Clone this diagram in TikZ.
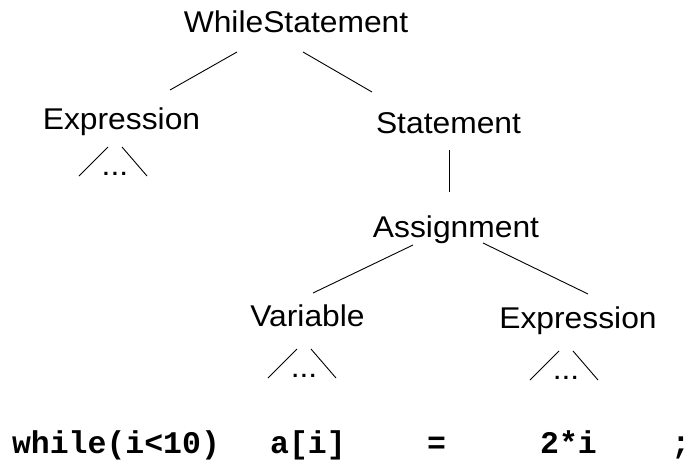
\documentclass[tikz,border=0pt]{standalone}
\usepackage{fontspec}
\setmainfont{Liberation Sans}[FakeStretch=1.06]
\newfontfamily\codefont{Liberation Mono}
\begin{document}
\begin{tikzpicture}[x=1pt,y=-1pt,
  lbl/.style={font=\fontsize{30}{36}\selectfont, inner sep=0pt, anchor=base},
  codetok/.style={font=\codefont\bfseries\fontsize{31.5}{36}\selectfont, inner sep=0pt, anchor=base},
  conn/.style={draw=black, line width=0.9pt}]
\useasboundingbox (0,0) rectangle (691,461);
% tree nodes
\node[lbl] (ws)  at (296,32)    {WhileStatement};
\node[lbl] (ex1) at (121.5,129) {Expression};
\node[lbl] (st)  at (448.5,133) {Statement};
\node[lbl] (as)  at (456,237)   {Assignment};
\node[lbl] (va)  at (307.5,326) {Variable};
\node[lbl] (ex2) at (578,328)   {Expression};
% elided subtrees
\node[lbl] (d1) at (115,175) {...};
\node[lbl] (d2) at (304,377) {...};
\node[lbl] (d3) at (566,379) {...};
% connectors
\draw[conn] ([shift={(-59,20)}]ws.base) -- ([shift={(48.5,-39)}]ex1.base);
\draw[conn] ([shift={(7,20)}]ws.base) -- ([shift={(-76.5,-41)}]st.base);
\draw[conn] ([shift={(0.5,17)}]st.base) -- ([shift={(-7,-45)}]as.base);
\draw[conn] ([shift={(-43,8)}]as.base) -- ([shift={(5.5,-33)}]va.base);
\draw[conn] ([shift={(27,6)}]as.base) -- ([shift={(10,-34)}]ex2.base);
\foreach \d in {d1,d2,d3}{
  \draw[conn] ([shift={(-7,-28)}]\d.base) -- ([shift={(-36,1)}]\d.base);
  \draw[conn] ([shift={(7,-28)}]\d.base) -- ([shift={(32,1)}]\d.base);
}
% source code line
\node[codetok] (c1) at (116,453)   {while(i<10)};
\node[codetok] (c2) at (308,453)   {a[i]};
\node[codetok] (c3) at (436.5,453) {=};
\node[codetok] (c4) at (568.5,453) {2*i};
\node[codetok, anchor=base east] (c5) at (690.5,453) {;};
\end{tikzpicture}
\end{document}
